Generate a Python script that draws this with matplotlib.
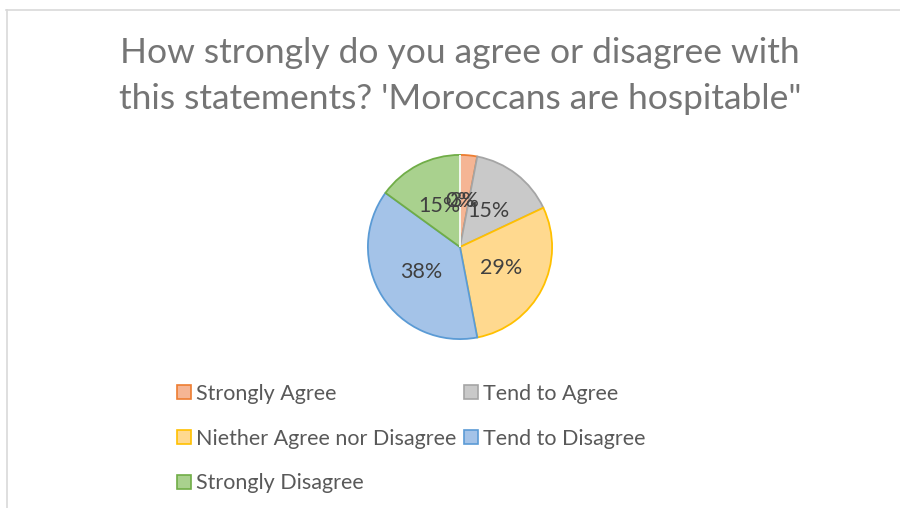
import matplotlib.pyplot as plt
from matplotlib.lines import Line2D
from matplotlib.patches import Patch

plt.rcParams['font.family'] = ['Lato', 'DejaVu Sans']

labels = ['Strongly Agree', 'Tend to Agree', 'Niether Agree nor Disagree',
          'Tend to Disagree', 'Strongly Disagree', '']
values = [3, 15, 29, 38, 15, 0]
fills = ['#F5B594', '#C9C9C9', '#FFD98F', '#A4C3E8', '#A9D18E', '#FFFFFF']
edges = ['#ED7D31', '#A5A5A5', '#FFC000', '#5B9BD5', '#70AD47', '#FFFFFF']
title = "How strongly do you agree or disagree with\nthis statements? 'Moroccans are hospitable\""

fig = plt.figure(figsize=(9, 5.08), dpi=100)

# chart border (only top and left visible in the crop)
fig.add_artist(Line2D([6/900, 1], [1 - 9.5/508] * 2, color='#D9D9D9', lw=1.2))
fig.add_artist(Line2D([6.5/900] * 2, [0, 1 - 9.5/508], color='#D9D9D9', lw=1.2))

fig.text(460/900, 1 - 76/508, title, ha='center', va='center', fontsize=25.5,
         color='#757575', linespacing=1.55)

# pie centre (460, 247), radius ~93 px
r = 93
ax = fig.add_axes([(460 - r)/900, 1 - (247 + r)/508, 2*r/900, 2*r/508])
wedges, texts, autotexts = ax.pie(values, colors=fills, startangle=90, counterclock=False,
                                  autopct='%1.0f%%', pctdistance=0.5,
                                  wedgeprops=dict(linewidth=1.3),
                                  textprops=dict(fontsize=15.5, color='#404040'))
for w, e in zip(wedges, edges):
    w.set_edgecolor(e)
ax.set_xlim(-1.01, 1.01)
ax.set_ylim(-1.01, 1.01)
ax.set_aspect('auto')

# legend fills column-wise; reorder so rows read like the reference
order = [0, 2, 4, 1, 3]
handles = [Patch(facecolor=fills[i], edgecolor=edges[i], linewidth=1.2) for i in order]
fig.legend(handles, [labels[i] for i in order], ncol=2, loc='upper left',
           bbox_to_anchor=(166/900, 1 - 373/508), frameon=False,
           fontsize=15.5, labelcolor='#595959', handlelength=0.65, handleheight=0.65,
           handletextpad=0.25, columnspacing=0.35, labelspacing=1.15, borderpad=0)

fig.savefig('out.png', dpi=100)
